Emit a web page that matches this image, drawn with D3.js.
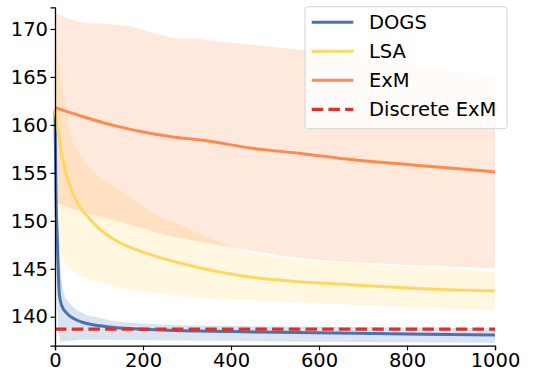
<!DOCTYPE html>
<html>
<head>
<meta charset="utf-8">
<script src="https://cdn.jsdelivr.net/npm/d3@7"></script>
<style>
  body { margin: 0; background: #fff; }
  svg { font-family: "DejaVu Sans", sans-serif; }
</style>
</head>
<body>
<svg width="533" height="377"></svg>
<script>
// iteration, value pairs
const dogsMean = [[0,161.5],[1,157],[2,154],[3,151],[5,148.5],[7,145.5],[10,142.3],[15,141.2],[27,140.35],[49,139.66],[64,139.4],[102,139.05],[140,138.85],[177,138.75],[290,138.55],[400,138.45],[594,138.33],[800,138.2],[1000,138.1]];
const dogsUpper = [[0,162],[3,156],[5,152],[10,146],[20,142.5],[34,141.4],[64,140.35],[100,139.9],[140,139.5],[200,139.3],[291,139.1],[594,138.96],[1000,138.8]];
const dogsLower = [[0,160],[2,148],[5,142],[8,138.5],[12,137.4],[64,137.6],[216,137.55],[594,137.4],[1000,137.3]];

const lsaMean = [[0,161.5],[4,160.3],[15,157.0],[26,154.8],[49,152.0],[79,150.2],[102,149.1],[140,147.9],[216,146.5],[284,145.6],[382,144.6],[450,144.1],[541,143.7],[650,143.4],[738,143.15],[850,142.9],[1000,142.7]];
const lsaUpper = [[0,170.5],[5,168],[12,165],[23,162.6],[34,159.1],[64,156.5],[102,154.6],[177,152.2],[250,150.2],[284,149.6],[350,148.2],[413,147.0],[480,146.4],[556,145.9],[670,145.6],[800,145.2],[1000,144.7]];
const lsaLower = [[0,148],[11,146.6],[30,145.2],[64,144.1],[140,143.1],[170,142.8],[284,142.1],[400,141.8],[594,141.4],[800,141.0],[1000,140.7]];

const exmMean = [[0,161.8],[64,160.85],[140,159.87],[216,159.12],[261,158.8],[337,158.4],[443,157.6],[563,157.0],[650,156.5],[740,156.1],[821,155.8],[1000,155.1]];
const exmUpper = [[0,171.7],[20,171.3],[50,170.8],[79,170.6],[125,170.5],[177,170.2],[238,169.4],[284,169.0],[329,169.0],[375,168.7],[435,168.4],[500,168.1],[563,167.8],[650,167.2],[760,166.6],[880,165.8],[1000,165.1]];
const exmLower = [[0,152],[34,151.3],[86,150.6],[140,150.0],[200,149.2],[261,148.4],[330,147.8],[413,147.1],[556,146.1],[650,145.75],[800,145.4],[1000,145.05]];

const discreteExm = [[0,138.7],[1000,138.7]];

const seriesNames = ["DOGS", "LSA", "ExM", "Discrete ExM"];
const xTicks = [0, 200, 400, 600, 800, 1000];
const yTicks = [140, 145, 150, 155, 160, 165, 170];

const svg = d3.select("svg");

const x = d3.scaleLinear()
    .domain([0, 1000])
    .range([55, 495]);

const y = d3.scaleLinear()
    .domain([136.98, 172.26])
    .range([345.7, 7.3]);

const colors = {
    "DOGS": "#4a72b2",
    "LSA": "#ffd75f",
    "ExM": "#ff8a50",
    "Discrete ExM": "#dc3028"
};

const toBand = (upper, lower) => {
    // merge both edges on a shared set of x positions
    const xs = Array.from(new Set(upper.map(d => d[0]).concat(lower.map(d => d[0])))).sort((a, b) => a - b);
    const interp = (arr, xv) => {
        for (let i = 1; i < arr.length; i++) {
            if (xv <= arr[i][0]) {
                const t = (xv - arr[i - 1][0]) / (arr[i][0] - arr[i - 1][0]);
                return arr[i - 1][1] + t * (arr[i][1] - arr[i - 1][1]);
            }
        }
        return arr[arr.length - 1][1];
    };
    return xs.map(xv => ({ x: xv, hi: interp(upper, xv), lo: interp(lower, xv) }));
};

const area = d3.area()
    .x(d => x(d.x))
    .y0(d => y(d.lo))
    .y1(d => y(d.hi))
    .curve(d3.curveMonotoneX);

const line = d3.line()
    .x(d => x(d[0]))
    .y(d => y(d[1]))
    .curve(d3.curveMonotoneX);

const bands = [
    { key: "DOGS", data: toBand(dogsUpper, dogsLower) },
    { key: "LSA", data: toBand(lsaUpper, lsaLower) },
    { key: "ExM", data: toBand(exmUpper, exmLower) }
];

svg.selectAll(".band")
    .data(bands)
    .enter()
    .append("path")
    .attr("class", "band")
    .attr("d", d => area(d.data))
    .attr("fill", d => colors[d.key])
    .attr("fill-opacity", 0.2);

const lines = [
    { key: "DOGS", data: dogsMean },
    { key: "LSA", data: lsaMean },
    { key: "ExM", data: exmMean }
];

svg.selectAll(".mean-line")
    .data(lines)
    .enter()
    .append("path")
    .attr("class", "mean-line")
    .attr("d", d => line(d.data))
    .attr("fill", "none")
    .attr("stroke", d => colors[d.key])
    .attr("stroke-width", 3);

svg.append("path")
    .attr("d", line(discreteExm))
    .attr("fill", "none")
    .attr("stroke", colors["Discrete ExM"])
    .attr("stroke-width", 3.3)
    .attr("stroke-dasharray", "11.5,5.2");

// axes, left and bottom spines only
const xAxis = svg.append("g")
    .attr("transform", "translate(0, 345.7)")
    .call(d3.axisBottom(x).tickValues(xTicks).tickSize(4.5).tickPadding(2.5).tickFormat(d3.format("d")));

const yAxis = svg.append("g")
    .attr("transform", "translate(55, 0)")
    .call(d3.axisLeft(y).tickValues(yTicks).tickSize(4.5).tickPadding(2.5));

[xAxis, yAxis].forEach(a => {
    a.select(".domain").attr("stroke", "#000").attr("stroke-width", 1.3);
    a.selectAll(".tick line").attr("stroke", "#000").attr("stroke-width", 1.2);
    a.selectAll(".tick text")
        .attr("fill", "#000")
        .attr("font-size", "19.5px")
        .attr("font-family", "DejaVu Sans");
});

// legend
const legend = svg.append("g")
    .attr("transform", "translate(305, 6.7)");

legend.append("rect")
    .attr("width", 202)
    .attr("height", 122)
    .attr("rx", 3)
    .attr("fill", "#fff")
    .attr("fill-opacity", 0.8)
    .attr("stroke", "#d4d4d4")
    .attr("stroke-width", 1);

const items = legend.selectAll(".legend-item")
    .data(seriesNames)
    .enter()
    .append("g")
    .attr("class", "legend-item")
    .attr("transform", (d, i) => `translate(0, ${15.6 + i * 29})`);

items.append("line")
    .attr("x1", 6.7)
    .attr("x2", 48.3)
    .attr("stroke", d => colors[d])
    .attr("stroke-width", d => d === "Discrete ExM" ? 3.3 : 3)
    .attr("stroke-dasharray", d => d === "Discrete ExM" ? "11.5,5.2" : null);

items.append("text")
    .attr("x", 64)
    .attr("y", 7)
    .attr("font-size", "19.5px")
    .attr("fill", "#000")
    .text(d => d);
</script>
</body>
</html>
